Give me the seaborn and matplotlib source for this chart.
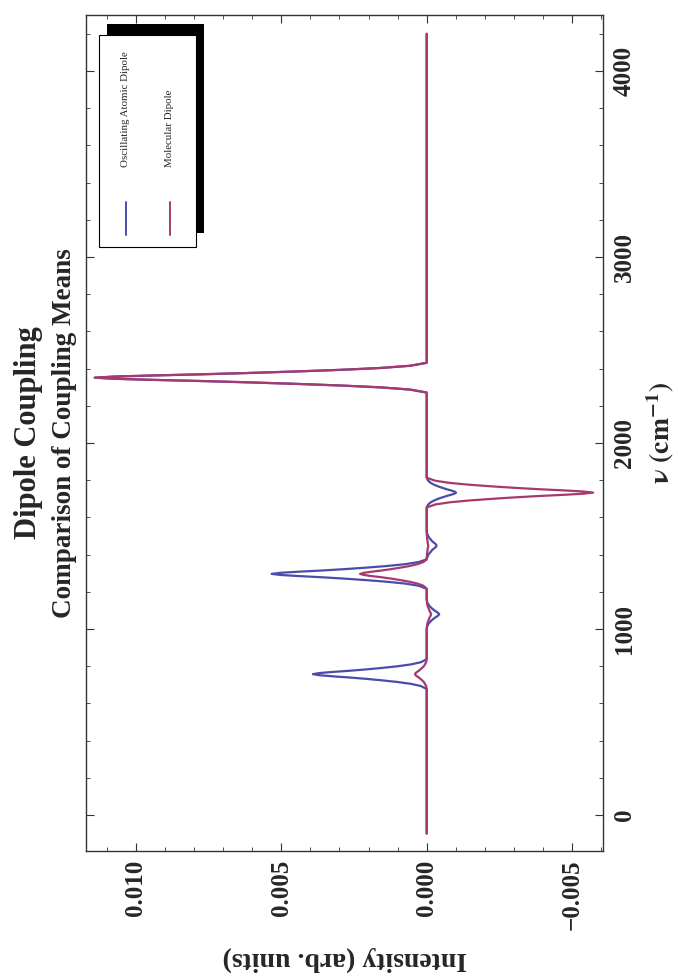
import matplotlib
matplotlib.use("Agg")
import pandas as pd
import matplotlib.pyplot as plt
import seaborn as sns
from matplotlib.ticker import MultipleLocator, FuncFormatter
from matplotlib.patches import Rectangle
from matplotlib.lines import Line2D

# wavenumber grid (cm^-1), shared by both spectra
wavenumber = [
    -100,
    677, 693, 705, 715, 724, 732, 739, 745, 751, 757, 763, 769, 775, 782, 790, 799, 809, 821, 837,
    999, 1015, 1027, 1037, 1046, 1054, 1061, 1067, 1073, 1079, 1085, 1091, 1097, 1104, 1112, 1121, 1131, 1143, 1159,
    1216, 1232, 1244, 1254, 1263, 1271, 1278, 1284, 1290, 1296, 1302, 1308, 1314, 1321, 1329, 1338, 1348, 1360, 1374,
    1380, 1384, 1396, 1406, 1415, 1423, 1430, 1436, 1442, 1448, 1454, 1460, 1466, 1473, 1481, 1490, 1500, 1512, 1528,
    1653, 1669, 1681, 1691, 1700, 1708, 1715, 1721, 1727, 1733, 1739, 1745, 1751, 1758, 1766, 1775, 1785, 1797, 1813,
    2271, 2287, 2299, 2309, 2318, 2326, 2333, 2339, 2345, 2351, 2357, 2363, 2369, 2376, 2384, 2393, 2403, 2415, 2431,
    4200,
]

atomic_dipole = [
    0,
    0, 0.00020, 0.00055, 0.00102, 0.00156, 0.00211, 0.00266, 0.00321, 0.00368, 0.00391,
    0.00368, 0.00321, 0.00266, 0.00211, 0.00156, 0.00102, 0.00055, 0.00020, 0,
    0, -0.00002, -0.00006, -0.00011, -0.00017, -0.00023, -0.00029, -0.00035, -0.00040, -0.00043,
    -0.00040, -0.00035, -0.00029, -0.00023, -0.00017, -0.00011, -0.00006, -0.00002, 0,
    0, 0.00027, 0.00075, 0.00139, 0.00213, 0.00288, 0.00362, 0.00437, 0.00501, 0.00533,
    0.00501, 0.00437, 0.00362, 0.00288, 0.00213, 0.00139, 0.00075, 0.00027, 0,
    0, -0.00002, -0.00005, -0.00009, -0.00014, -0.00018, -0.00023, -0.00028, -0.00032, -0.00034,
    -0.00032, -0.00028, -0.00023, -0.00018, -0.00014, -0.00009, -0.00005, -0.00002, 0,
    0, -0.00005, -0.00014, -0.00026, -0.00040, -0.00055, -0.00069, -0.00083, -0.00095, -0.00101,
    -0.00095, -0.00083, -0.00069, -0.00055, -0.00040, -0.00026, -0.00014, -0.00005, 0,
    0, 0.00057, 0.00160, 0.00297, 0.00456, 0.00616, 0.00776, 0.00936, 0.01073, 0.01141,
    0.01073, 0.00936, 0.00776, 0.00616, 0.00456, 0.00297, 0.00160, 0.00057, 0,
    0,
]

molecular_dipole = [
    0,
    0, 0.00002, 0.00006, 0.00010, 0.00016, 0.00022, 0.00027, 0.00033, 0.00038, 0.00040,
    0.00038, 0.00033, 0.00027, 0.00022, 0.00016, 0.00010, 0.00006, 0.00002, 0,
    0, -0.00001, -0.00002, -0.00004, -0.00006, -0.00008, -0.00010, -0.00012, -0.00014, -0.00015,
    -0.00014, -0.00012, -0.00010, -0.00008, -0.00006, -0.00004, -0.00002, -0.00001, 0,
    0, 0.00011, 0.00032, 0.00060, 0.00092, 0.00124, 0.00156, 0.00188, 0.00215, 0.00229,
    0.00215, 0.00188, 0.00156, 0.00124, 0.00092, 0.00060, 0.00032, 0.00011, 0,
    0, 0, -0.00001, -0.00001, -0.00002, -0.00003, -0.00003, -0.00004, -0.00005, -0.00005,
    -0.00005, -0.00004, -0.00003, -0.00003, -0.00002, -0.00001, -0.00001, 0, 0,
    0, -0.00029, -0.00080, -0.00149, -0.00229, -0.00309, -0.00389, -0.00469, -0.00538, -0.00572,
    -0.00538, -0.00469, -0.00389, -0.00309, -0.00229, -0.00149, -0.00080, -0.00029, 0,
    0, 0.00057, 0.00160, 0.00297, 0.00456, 0.00616, 0.00776, 0.00936, 0.01073, 0.01141,
    0.01073, 0.00936, 0.00776, 0.00616, 0.00456, 0.00297, 0.00160, 0.00057, 0,
    0,
]

series_names = ["Oscillating Atomic Dipole", "Molecular Dipole"]
series_colors = ["#4b4bab", "#a63a6c"]

sns.set_theme(style="white")
plt.rcParams["font.family"] = ["Liberation Serif", "DejaVu Serif"]
plt.rcParams["font.weight"] = "bold"
plt.rcParams["axes.labelweight"] = "bold"
plt.rcParams["mathtext.fontset"] = "stix"

df = pd.DataFrame({
    "nu": wavenumber * 2,
    "intensity": atomic_dipole + molecular_dipole,
    "series": [series_names[0]] * len(wavenumber) + [series_names[1]] * len(wavenumber),
})

W, H = 678, 977
fig = plt.figure(figsize=(W / 100, H / 100), dpi=100)
fig.patch.set_facecolor("white")
ax = fig.add_axes([86 / W, 1 - 851 / H, (603 - 86) / W, (851 - 15) / H])

# the chart is shown turned a quarter turn: wavenumber runs up, intensity runs left
sns.lineplot(data=df, x="intensity", y="nu", hue="series",
             palette=dict(zip(series_names, series_colors)),
             sort=False, estimator=None, orient="y", linewidth=1.6,
             legend=False, ax=ax)

ax.set_xlim(0.01171, -0.00606)
ax.set_ylim(-194, 4301)

ax.xaxis.set_major_locator(MultipleLocator(0.005))
ax.xaxis.set_minor_locator(MultipleLocator(0.001))
ax.yaxis.set_major_locator(MultipleLocator(1000))
ax.yaxis.set_minor_locator(MultipleLocator(200))
ax.xaxis.set_major_formatter(FuncFormatter(lambda v, p: f"{v:.3f}".replace("-", "\u2212") if abs(v) > 1e-9 else "0.000"))
ax.yaxis.set_major_formatter(FuncFormatter(lambda v, p: f"{v:.0f}"))

ax.tick_params(which="both", direction="in", top=True, bottom=True, left=True, right=True,
               labelleft=False, labelright=True, labeltop=False, labelbottom=True,
               color="#333333")
ax.tick_params(which="major", length=6, width=0.8, labelsize=18)
ax.tick_params(which="minor", length=3, width=0.6)
ax.tick_params(axis="x", labelrotation=90, pad=6)
ax.tick_params(axis="y", labelrotation=90, pad=7)
for t in ax.get_yticklabels():
    t.set_va("center")

for s in ax.spines.values():
    s.set_color("#333333")
    s.set_linewidth(1.0)

ax.set_xlabel("Intensity (arb. units)", rotation=180, fontsize=20, labelpad=12)
ax.yaxis.set_label_position("right")
ax.set_ylabel(r"$\mathbf{\nu\ (cm^{-1})}$", rotation=90, fontsize=20, labelpad=6)

fig.text(29 / W, 1 - 433 / H, "Dipole Coupling", rotation=90, fontsize=22,
         ha="center", va="center")
fig.text(65 / W, 1 - 433 / H, "Comparison of Coupling Means", rotation=90, fontsize=19.5,
         ha="center", va="center")

# legend with drop shadow, drawn turned like the rest
fig.patches.append(Rectangle((107 / W, 1 - 233 / H), 97 / W, 209 / H,
                             transform=fig.transFigure, facecolor="black", edgecolor="none"))
fig.patches.append(Rectangle((99 / W, 1 - 247 / H), 97 / W, 212 / H,
                             transform=fig.transFigure, facecolor="white",
                             edgecolor="black", linewidth=0.8))
for xpx, name, col in zip([126, 170], series_names, series_colors):
    fig.text(xpx / W, 1 - 167 / H, name, rotation=90, fontsize=7.8, fontweight="normal",
             ha="center", va="bottom")
    fig.lines.append(Line2D([xpx / W, xpx / W], [1 - 235 / H, 1 - 202 / H],
                            transform=fig.transFigure, color=col, linewidth=1.4))

fig.savefig("out.png", dpi=100)
